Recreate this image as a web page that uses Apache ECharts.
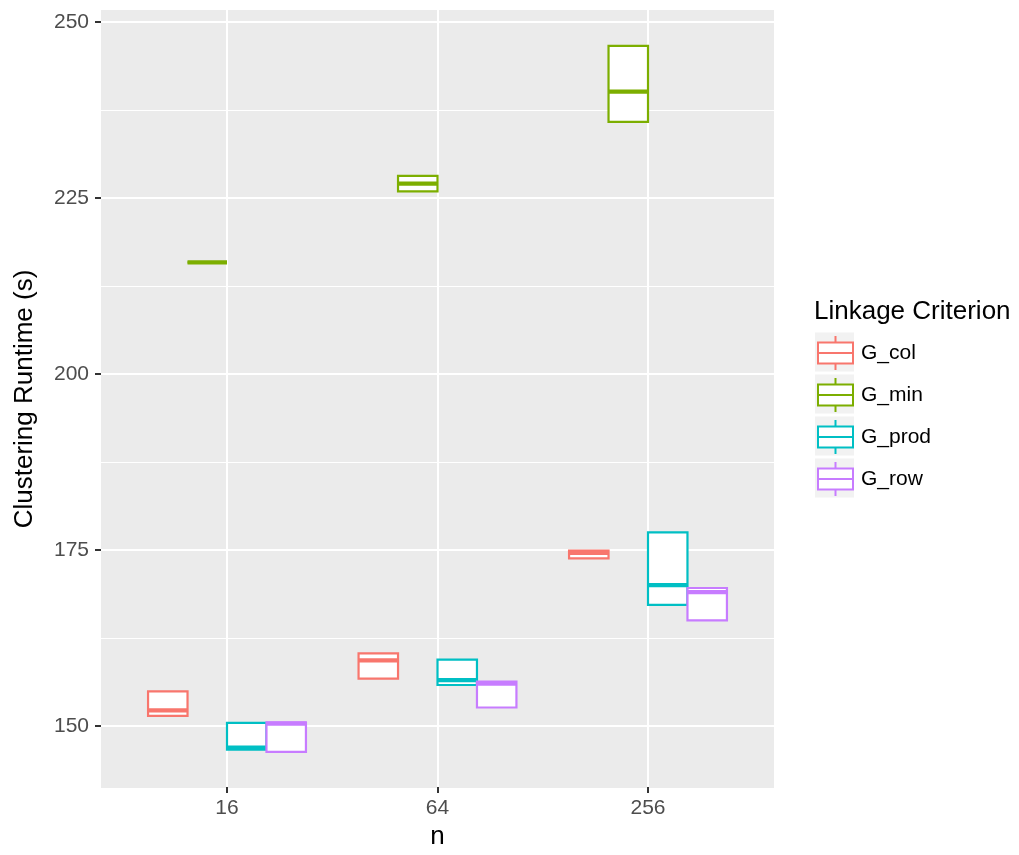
<!DOCTYPE html>
<html>
<head>
<meta charset="utf-8">
<script src="https://cdn.jsdelivr.net/npm/echarts@6/dist/echarts.min.js"></script>
<style>html,body{margin:0;padding:0;background:#fff}#c{width:1019px;height:855px}</style>
</head>
<body>
<div id="c"></div>
<script>
// ---- data (each box: [min, Q1, median, Q3, max]) ----
const categories = ['16', '64', '256'];
const groups = ['G_col', 'G_min', 'G_prod', 'G_row'];
const colors = ['#F8766D', '#7CAE00', '#00BFC4', '#C77CFF'];
const G_col  = [[151.3, 151.3, 152.1, 154.8, 154.8], [156.6, 156.6, 159.2, 160.2, 160.2], [173.7, 173.7, 174.5, 174.8, 174.8]];
const G_min  = [[215.8, 215.8, 215.8, 215.8, 215.8], [225.9, 225.9, 227.0, 228.1, 228.1], [235.8, 235.8, 240.1, 246.6, 246.6]];
const G_prod = [[146.5, 146.5, 146.8, 150.3, 150.3], [155.7, 155.7, 156.4, 159.3, 159.3], [167.1, 167.1, 169.9, 177.4, 177.4]];
const G_row  = [[146.2, 146.2, 150.2, 150.4, 150.4], [152.5, 152.5, 155.9, 156.2, 156.2], [164.9, 164.9, 168.9, 169.5, 169.5]];
const yTicks = [150, 175, 200, 225, 250];
const groupData = [G_col, G_min, G_prod, G_row];

const FONT = "'Liberation Sans', Arial, Helvetica, sans-serif";
const chart = echarts.init(document.getElementById('c'), null, {renderer: 'canvas'});

function renderItem(params, api) {
  const g = params.seriesIndex;
  const color = colors[g];
  const cat = api.value(0);
  const band = api.size([1, 0])[0];
  const w = band * 0.75 / groups.length;
  const cx = api.coord([cat, api.value(3)])[0] + (g - (groups.length - 1) / 2) * w;
  const yMin = api.coord([cat, api.value(1)])[1];
  const yQ1 = api.coord([cat, api.value(2)])[1];
  const yMed = api.coord([cat, api.value(3)])[1];
  const yQ3 = api.coord([cat, api.value(4)])[1];
  const yMax = api.coord([cat, api.value(5)])[1];
  return {
    type: 'group',
    children: [
      {type: 'line', shape: {x1: cx, y1: yQ3, x2: cx, y2: yMax}, style: {stroke: color, lineWidth: 2.2}},
      {type: 'line', shape: {x1: cx, y1: yQ1, x2: cx, y2: yMin}, style: {stroke: color, lineWidth: 2.2}},
      {type: 'rect', shape: {x: cx - w / 2, y: yQ3, width: w, height: yQ1 - yQ3}, style: {fill: '#ffffff', stroke: color, lineWidth: 2.2}},
      {type: 'line', shape: {x1: cx - w / 2, y1: yMed, x2: cx + w / 2, y2: yMed}, style: {stroke: color, lineWidth: 4.2}}
    ]
  };
}

const series = groups.map((name, gi) => ({
  name: name,
  type: 'custom',
  coordinateSystem: 'cartesian2d',
  xAxisIndex: 2,
  yAxisIndex: 2,
  renderItem: renderItem,
  clip: false,
  itemStyle: {color: colors[gi]},
  encode: {x: 0, y: [1, 2, 3, 4, 5]},
  data: groupData[gi].map((b, ci) => [ci].concat(b))
}));

const iconPath = 'path://M17.5,0 L17.5,6.5 M0,6.5 L35,6.5 L35,27.5 L0,27.5 Z M0,17 L35,17 M17.5,27.5 L17.5,34';

const legendRowTop = 335, legendRowStep = 42;
const keyBgs = groups.map((n, i) => ({
  type: 'rect', z: 0,
  shape: {x: 815, y: legendRowTop + i * legendRowStep - 2.5, width: 39, height: 39},
  style: {fill: '#F2F2F2'}
}));

const option = {
  backgroundColor: '#ffffff',
  animation: false,
  textStyle: {fontFamily: FONT},
  title: {
    text: 'Linkage Criterion', left: 814, top: 299, padding: 0,
    textStyle: {fontFamily: FONT, fontSize: 26, fontWeight: 'normal', color: '#000'}
  },
  legend: {
    orient: 'vertical', left: 817, top: legendRowTop, padding: 0, z: 10,
    itemWidth: 35, itemHeight: 34, itemGap: 6,
    textStyle: {fontFamily: FONT, fontSize: 21, color: '#000', padding: [0, 0, 0, 3]},
    data: groups.map((n, i) => ({
      name: n, icon: iconPath,
      itemStyle: {color: '#ffffff', borderColor: colors[i], borderWidth: 2}
    }))
  },
  graphic: keyBgs,
  grid: [
    {left: 101, top: 10, width: 673, height: 778, show: true, backgroundColor: '#EBEBEB', borderWidth: 0},
    {left: 101, top: 22, width: 673, height: 704},
    {left: 227, top: 10, width: 421, height: 778}
  ],
  xAxis: [
    {gridIndex: 0, type: 'value', min: 0, max: 1, show: false},
    {gridIndex: 1, type: 'value', min: 0, max: 1, show: false},
    {
      gridIndex: 2, type: 'category', data: categories, boundaryGap: false,
      name: 'n', nameLocation: 'middle', nameGap: 37,
      nameTextStyle: {fontFamily: FONT, fontSize: 26, color: '#000'},
      axisLine: {show: false},
      axisTick: {show: true, length: 6, lineStyle: {color: '#333333', width: 2}},
      axisLabel: {fontFamily: FONT, fontSize: 21, color: '#4D4D4D', margin: 11},
      splitLine: {show: true, lineStyle: {color: '#ffffff', width: 2}}
    }
  ],
  yAxis: [
    {
      gridIndex: 0, type: 'value', min: 0, max: 1,
      name: 'Clustering Runtime (s)', nameLocation: 'middle', nameGap: 63,
      nameTextStyle: {fontFamily: FONT, fontSize: 26, color: '#000'},
      axisLine: {show: false}, axisTick: {show: false}, axisLabel: {show: false}, splitLine: {show: false}
    },
    {
      gridIndex: 1, type: 'value', min: yTicks[0], max: yTicks[yTicks.length - 1], interval: 25,
      axisLine: {show: false},
      axisTick: {show: true, length: 6, lineStyle: {color: '#333333', width: 2}},
      axisLabel: {fontFamily: FONT, fontSize: 21, color: '#4D4D4D', margin: 12},
      splitLine: {show: true, lineStyle: {color: '#ffffff', width: 2}},
      minorTick: {show: false, splitNumber: 2},
      minorSplitLine: {show: true, lineStyle: {color: '#ffffff', width: 1}}
    },
    {gridIndex: 2, type: 'value', min: 250 - 766 / 7.04, max: 250 + 12 / 7.04, show: false}
  ],
  series: series
};
chart.setOption(option);
</script>
</body>
</html>
